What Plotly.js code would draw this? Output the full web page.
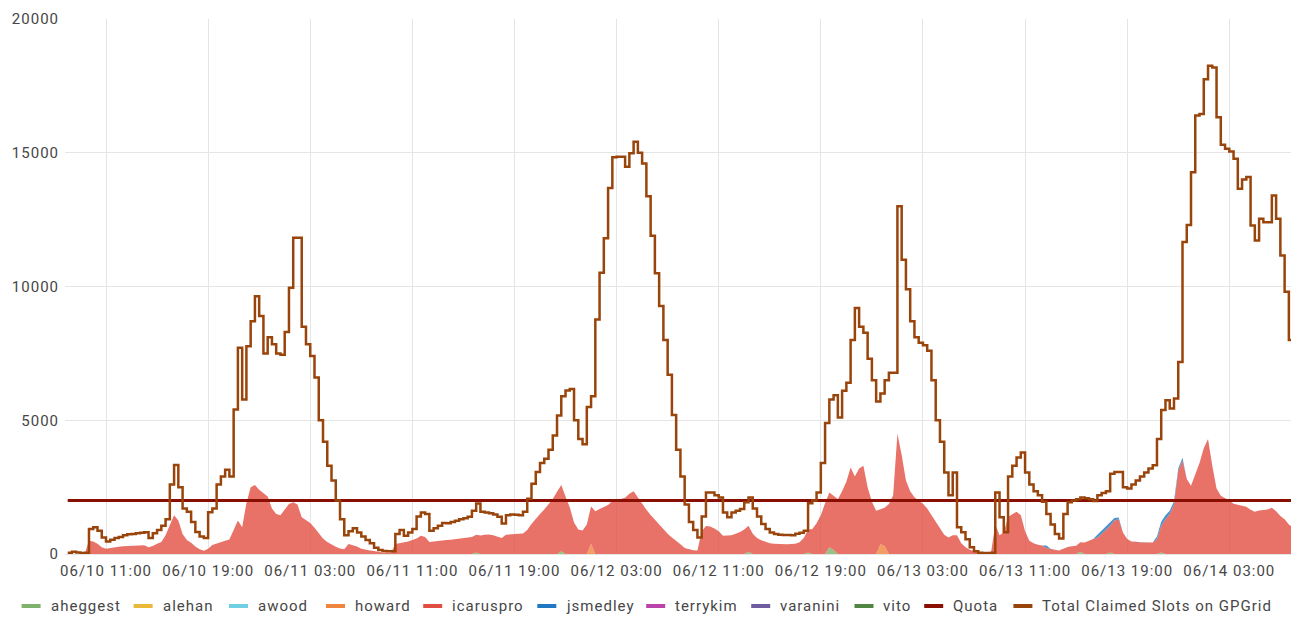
<!DOCTYPE html>
<html><head><meta charset="utf-8">
<script src="https://cdn.plot.ly/plotly-3.0.1.min.js"></script>
<style>
html,body{margin:0;padding:0;background:#fff;}
#chart{width:1295px;height:620px;}
text{letter-spacing:1px;}
</style></head><body><div id="chart"></div>
<script>
// ---- time grid: 20-minute samples starting 06/10 08:00 ----
const startTime = Date.UTC(2018, 5, 10, 8, 0);
const stepMinutes = 20;

// Total Claimed Slots on GPGrid
const totalSlots = [
 50, 80, 60, 40, 50, 930, 1000, 870, 620, 470,
 530, 600, 640, 700, 740, 750, 780, 790, 810, 600,
 780, 900, 1060, 1300, 2600, 3330, 2500, 1700, 1580, 1200,
 820, 650, 600, 1560, 1700, 2600, 2900, 3150, 2900, 5400,
 7710, 5780, 7770, 8700, 9640, 8900, 7500, 8100, 7840, 7500,
 7450, 8300, 9950, 11820, 11820, 8500, 7840, 7400, 6600, 5000,
 4200, 3300, 2750, 2000, 1300, 700, 850, 960, 800, 650,
 520, 400, 230, 150, 110, 100, 100, 750, 900, 680,
 800, 930, 1400, 1550, 1500, 870, 960, 1060, 1160, 1150,
 1200, 1240, 1300, 1340, 1390, 1620, 1890, 1580, 1550, 1520,
 1480, 1390, 1140, 1450, 1480, 1470, 1450, 1580, 2070, 2630,
 3070, 3400, 3560, 3900, 4430, 5180, 5900, 6110, 6170, 5000,
 4300, 4100, 5500, 5900, 8770, 10510, 11800, 13680, 14830, 14850,
 14850, 14480, 14980, 15410, 15000, 14600, 13370, 11900, 10500, 9270,
 8000, 6700, 5200, 3900, 2900, 1850, 1200, 900, 620, 1400,
 2300, 2300, 2200, 2110, 1550, 1370, 1550, 1620, 1680, 1930,
 2110, 1700, 1400, 1120, 930, 800, 750, 720, 710, 710,
 700, 760, 790, 870, 1900, 2000, 2300, 3400, 4900, 5780,
 5930, 5100, 6100, 6400, 8000, 9200, 8500, 8270, 7300, 6500,
 5700, 6000, 6500, 6780, 6780, 13000, 11000, 9900, 8700, 8100,
 7900, 7800, 7600, 6500, 5000, 4200, 3050, 2200, 3050, 1000,
 810, 550, 250, 100, 50, 40, 40, 50, 2300, 1370,
 810, 2900, 3300, 3610, 3790, 3050, 2600, 2350, 2200, 1950,
 1500, 1100, 750, 580, 1500, 1930, 2000, 2050, 2110, 2080,
 2050, 1980, 2200, 2280, 2350, 3000, 3070, 3070, 2500, 2450,
 2600, 2750, 2900, 3050, 3200, 3320, 4300, 5380, 5750, 5440,
 5810, 7180, 11660, 12300, 14270, 16390, 16450, 17750, 18250, 18190,
 16330, 15300, 15150, 15050, 14780, 13650, 14000, 14090, 12280, 11720,
 12530, 12400, 12400, 13400, 12530, 11160, 9800, 8000, 7490
];

// icaruspro (stacked area)
const icaruspro = [
 0, 0, 0, 0, 0, 500, 470, 380, 250, 200,
 230, 260, 270, 290, 300, 310, 320, 320, 330, 250,
 300, 380, 450, 700, 1100, 1450, 1250, 750, 520, 420,
 280, 180, 120, 200, 340, 400, 460, 500, 540, 880,
 1250, 1000, 1900, 2500, 2580, 2400, 2280, 2150, 1700, 1500,
 1450, 1650, 1870, 1930, 1850, 1370, 1280, 1160, 980, 800,
 580, 450, 350, 270, 210, 180, 370, 320, 280, 200,
 160, 130, 110, 80, 60, 60, 60, 370, 400, 430,
 470, 520, 580, 680, 640, 450, 470, 500, 510, 520,
 530, 550, 570, 580, 600, 640, 660, 690, 720, 730,
 700, 650, 600, 720, 740, 750, 760, 770, 900, 1120,
 1330, 1500, 1660, 1880, 2060, 2330, 2480, 2150, 1740, 1180,
 920, 880, 1100, 1400, 1600, 1680, 1750, 1830, 1980, 2030,
 2060, 2100, 2250, 2350, 2120, 1850, 1650, 1460, 1280, 1090,
 900, 760, 620, 500, 360, 220, 170, 140, 130, 850,
 1050, 1030, 950, 850, 680, 680, 700, 760, 820, 920,
 980, 760, 600, 510, 440, 400, 380, 370, 360, 360,
 370, 380, 440, 600, 850, 930, 1150, 1450, 1900, 2050,
 2030, 2050, 2350, 2700, 3230, 2900, 3200, 3300, 2500, 1950,
 1620, 1310, 1430, 1870, 2200, 4500, 3700, 2750, 2350, 2120,
 2000, 1880, 1700, 1450, 1200, 960, 720, 620, 700, 700,
 400, 250, 160, 110, 80, 70, 60, 60, 1100, 700,
 800, 1380, 1490, 1580, 1450, 850, 500, 400, 350, 320,
 220, 200, 160, 130, 200, 260, 290, 310, 360, 430,
 500, 560, 620, 760, 900, 1000, 1250, 1300, 800, 560,
 470, 450, 440, 430, 430, 430, 550, 1000, 1300, 1500,
 1850, 3100, 3500, 2800, 2550, 2950, 3400, 3950, 4300, 3300,
 2450, 2180, 2100, 2000, 1880, 1850, 1820, 1770, 1650, 1580,
 1630, 1650, 1660, 1730, 1600, 1420, 1300, 1100, 1000
];

// small users (only non-zero samples)
const aheggestTimes = ['2018-06-11 16:00','2018-06-11 22:40','2018-06-12 13:20','2018-06-12 18:00','2018-06-12 19:40','2018-06-12 20:00','2018-06-13 15:20','2018-06-13 17:40','2018-06-13 21:40'];
const aheggestVals  = [60, 100, 80, 60, 250, 150, 80, 60, 60];
const howardTimes = ['2018-06-12 01:00','2018-06-12 23:40','2018-06-13 00:00'];
const howardVals  = [380, 370, 300];
const jsmedleyTimes = ['2018-06-13 12:40','2018-06-13 16:40','2018-06-13 17:00','2018-06-13 17:20','2018-06-13 17:40','2018-06-13 18:00','2018-06-13 18:20',
  '2018-06-13 21:20','2018-06-13 21:40','2018-06-13 22:00','2018-06-13 22:20','2018-06-13 22:40','2018-06-13 23:00','2018-06-13 23:20'];
const jsmedleyVals = [100, 100, 120, 130, 110, 100, 60, 100, 150, 150, 120, 120, 100, 100];

const quotaValue = [2000, 2000];

const yTickVals = [0, 5000, 10000, 15000, 20000];
const yTickLabels = ['0', '5000', '10000', '15000', '20000'];

// legend
const legendNames  = ['aheggest','alehan','awood','howard','icaruspro','jsmedley','terrykim','varanini','vito','Quota','Total Claimed Slots on GPGrid'];
const legendColors = ['#7EB26D','#EAB839','#6ED0E0','#EF843C','#E24D42','#1F78C1','#BA43A9','#705DA0','#508642','#890F02','#99440A'];
const legendSwatchX = [21.6, 133.6, 229, 326, 423.2, 537.3, 646.2, 751.2, 854.5, 924.2, 1013.4];

// ---- build ----
function fmt(ms){ return new Date(ms).toISOString().slice(0,16).replace('T',' '); }
const times = totalSlots.map((_, i) => fmt(startTime + i * stepMinutes * 60000));

function rgba(hex, a){
  const n = parseInt(hex.slice(1), 16);
  return 'rgba(' + (n >> 16) + ',' + ((n >> 8) & 255) + ',' + (n & 255) + ',' + a + ')';
}
function area(name, x, y, color){
  return {type:'scatter', mode:'lines', name, x, y, stackgroup:'users', stackgaps:'infer zero',
    line:{shape:'linear', width:0, color: rgba(color, 0.8)}, fillcolor: rgba(color, 0.8), hoverinfo:'skip'};
}

const data = [
  area('aheggest', aheggestTimes, aheggestVals, '#7EB26D'),
  area('howard', howardTimes, howardVals, '#EF843C'),
  area('icaruspro', times, icaruspro, '#E24D42'),
  area('jsmedley', jsmedleyTimes, jsmedleyVals, '#1F78C1'),
  {type:'scatter', mode:'lines', name:'Quota', x:[times[0], times[times.length-1]], y:quotaValue,
   line:{color:'#890F02', width:3}, hoverinfo:'skip'},
  {type:'scatter', mode:'lines', name:'Total Claimed Slots on GPGrid', x:times, y:totalSlots,
   line:{color:'#99440A', width:2.5, shape:'hv'}, hoverinfo:'skip'}
];

const W = 1295, H = 620, ML = 65, MR = 4, MT = 19, MB = 66;
const PW = W - ML - MR, PH = H - MT - MB;
const legendY = 606;
const px2x = px => (px - ML) / PW;
const py2y = py => (H - MB - py) / PH;

const shapes = [], annotations = [];
legendNames.forEach((nm, k) => {
  const sx = legendSwatchX[k];
  shapes.push({type:'rect', xref:'paper', yref:'paper', x0:px2x(sx), x1:px2x(sx + 19), y0:py2y(legendY - 2), y1:py2y(legendY + 2),
    fillcolor: legendColors[k], line:{width:0}, layer:'above'});
  annotations.push({xref:'paper', yref:'paper', x:px2x(sx + 27), y:py2y(legendY), xanchor:'left', yanchor:'middle',
    showarrow:false, text:nm, font:{family:'Roboto, sans-serif', size:15, color:'#464646'}});
});

const grid = '#e5e5e5';
const layout = {
  width: W, height: H,
  margin:{l:ML, r:MR, t:MT, b:MB, pad:0},
  paper_bgcolor:'#ffffff', plot_bgcolor:'#ffffff',
  font:{family:'Roboto, sans-serif', size:15, color:'#464646'},
  showlegend:false,
  xaxis:{type:'date', range:['2018-06-10 07:47:17', '2018-06-14 07:50'],
    tick0:'2018-06-10 11:00', dtick: 8 * 3600000, tickformat:'%m/%d %H:%M',
    showgrid:true, gridcolor:grid, gridwidth:1, zeroline:false, showline:false, ticks:'',
    ticklabelstandoff:6, fixedrange:true},
  yaxis:{range:[0, 20000], tickmode:'array', tickvals:yTickVals, ticktext:yTickLabels,
    showgrid:true, gridcolor:grid, gridwidth:1, zeroline:true, zerolinecolor:grid, zerolinewidth:1,
    showline:false, ticks:'', ticklabelstandoff:5, fixedrange:true},
  shapes, annotations
};

Plotly.newPlot('chart', data, layout, {staticPlot:true, displayModeBar:false});
</script></body></html>
